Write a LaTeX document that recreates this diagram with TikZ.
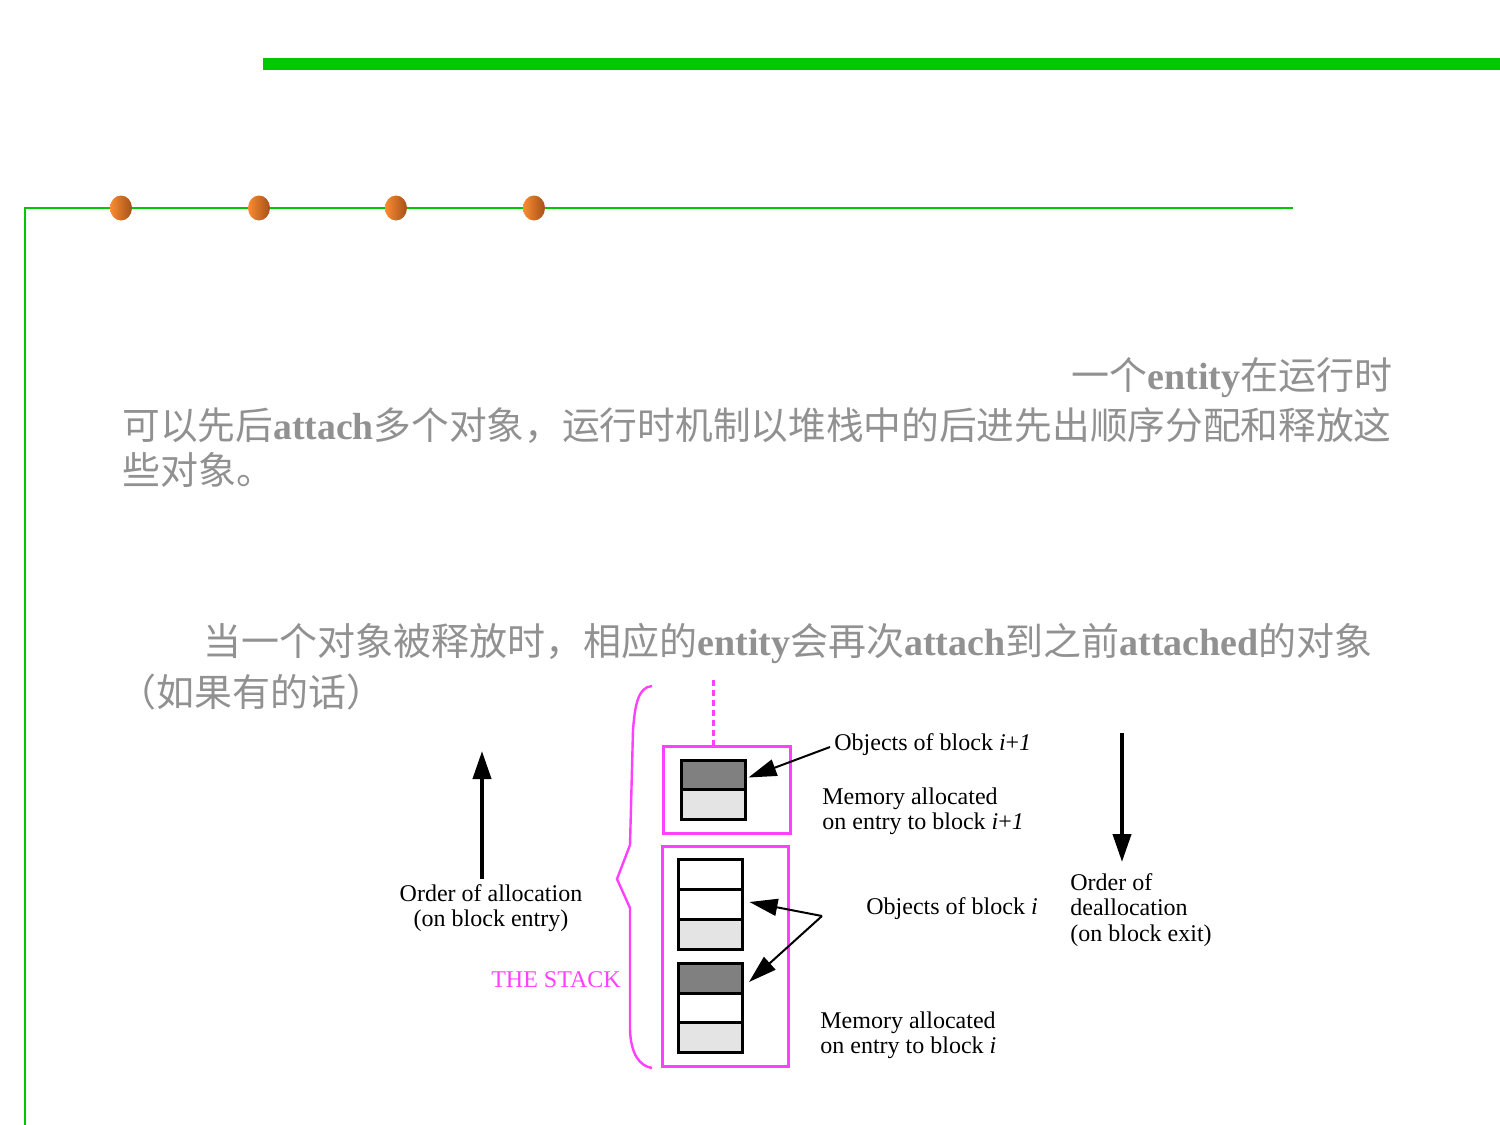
\documentclass[tikz,border=0pt]{standalone}
\usepackage{fontspec}
\setmainfont{Liberation Serif}
\newfontfamily\cjk{Noto Sans CJK SC}
\newfontfamily\latb{Liberation Serif Bold}
\newcommand{\lw}[1]{{\latb #1}}
\usetikzlibrary{arrows.meta,shapes.geometric}
\definecolor{bargreen}{RGB}{0,200,0}
\definecolor{mag}{RGB}{255,64,255}
\definecolor{txtgray}{RGB}{145,145,145}
\definecolor{dotlight}{RGB}{250,140,50}
\definecolor{dotdark}{RGB}{165,80,25}
\definecolor{cdark}{RGB}{128,128,128}
\definecolor{clight}{RGB}{228,228,228}
\begin{document}
\begin{tikzpicture}[x=0.5pt,y=-0.5pt,
  dot/.style={ellipse,draw=none,minimum width=11pt,minimum height=12.5pt,inner sep=0pt,left color=dotlight,right color=dotdark},
  cjktext/.style={inner sep=0pt,text=txtgray,font=\cjk\fontsize{19}{22}\selectfont},
  lbl/.style={inner sep=0pt,font=\fontsize{12}{12.3}\selectfont},
  cell/.style={draw=black,line width=1.5pt,minimum width=32pt,minimum height=15pt,inner sep=0pt},
  magbox/.style={draw=mag,line width=1.5pt,inner sep=0pt},
  ptr/.style={line width=1pt,-{Triangle[length=14pt,width=8.5pt]}},
  bigarrow/.style={line width=2pt,-{Triangle[length=14pt,width=9pt]}}]
\useasboundingbox (0,0) rectangle (1500,1125);
% frame
\draw[bargreen,line width=6pt] (263,64) -- (1500,64);
\draw[bargreen,line width=1pt] (1293,208) -- (25,208) -- (25,1125);
\foreach \x/\n in {121/1,259/2,396/3,534/4} \node[dot] (d\n) at (\x,208) {};
% Chinese text
\node[cjktext,anchor=east] (l1) at (1393,378) {一个\lw{entity}在运行时};
\node[cjktext,anchor=west,font=\cjk\fontsize{18.85}{22}\selectfont] (l2) at (122,426) {可以先后\lw{attach}多个对象，运行时机制以堆栈中的后进先出顺序分配和释放这};
\node[cjktext,anchor=west] (l3) at (122,470) {些对象。};
\node[cjktext,anchor=west] (l4) at (203,643) {当一个对象被释放时，相应的\lw{entity}会再次\lw{attach}到之前\lw{attached}的对象};
\node[cjktext,anchor=west] (l5) at (118,692) {（如果有的话）};
% stack boxes
\node[magbox,minimum width=63.5pt,minimum height=43.5pt] (ubox) at (726.5,789.5) {};
\node[magbox,minimum width=63pt,minimum height=110pt] (lbox) at (725,956) {};
\coordinate (dtop) at (713,680);
\draw[mag,line width=1.5pt,dash pattern=on 3pt off 2pt] (dtop) -- (dtop |- ubox.north);
% brace
\draw[mag,line width=1.2pt] (652,686) .. controls (638,687) and (635,705) .. (633,730) -- (630,845) -- (617,879) -- (630,908) -- (630,1030) .. controls (631,1055) and (640,1066) .. (652,1068);
% cells
\node[cell,fill=cdark] (u1) at (713,775.5) {};
\node[cell,fill=clight] (u2) at (713,804.5) {};
\node[cell,fill=white] (a1) at (710,874) {};
\node[cell,fill=white] (a2) at (710,904) {};
\node[cell,fill=clight] (a3) at (710,934) {};
\node[cell,fill=cdark] (b1) at (710.5,978) {};
\node[cell,fill=white] (b2) at (710.5,1008) {};
\node[cell,fill=clight] (b3) at (710.5,1037.5) {};
% labels
\node[lbl,anchor=west] (obi1) at (834,745) {Objects of block \textit{i}+\textit{1}};
\node[lbl,anchor=west,align=left] (mem1) at (822,811) {Memory allocated\\on entry to block \textit{i}+\textit{1}};
\node[lbl,anchor=west] (obi) at (866,909) {Objects of block \textit{i}};
\node[lbl,anchor=west,align=left] (mem) at (820,1035) {Memory allocated\\on entry to block \textit{i}};
\node[lbl,align=center] (alloc) at (491,908) {Order of allocation\\(on block entry)};
\node[lbl,text=mag] (stack) at (556,980) {THE STACK};
\node[lbl,anchor=west,align=left,font=\fontsize{12}{12.6}\selectfont] (dealloc) at (1070,910) {Order of\\deallocation\\(on block exit)};
% arrows
\coordinate (upTop) at (482,751);
\coordinate (upBot) at (482,879);
\draw[bigarrow] (upBot) -- (upTop);
\coordinate (dnTop) at (1122,733);
\coordinate (dnTip) at (1122,862);
\draw[bigarrow] (dnTop) -- (dnTip);
\coordinate (p1) at (830,747);
\draw[ptr] (p1) -- ([xshift=1pt,yshift=-1pt]u1.east);
\coordinate (p2) at (822,916);
\draw[ptr] (p2) -- ([xshift=3pt,yshift=1pt]a2.east);
\draw[ptr] (p2) -- ([xshift=2.5pt,yshift=-2pt]b1.east);
\end{tikzpicture}
\end{document}
